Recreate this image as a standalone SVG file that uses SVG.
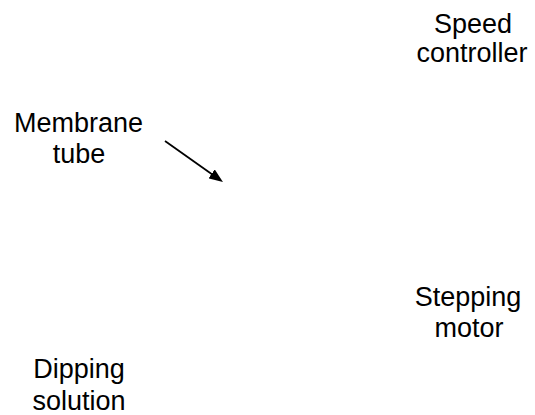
<svg xmlns="http://www.w3.org/2000/svg" width="535" height="415" viewBox="0 0 535 415">
<style>
.lbl{font-family:"Liberation Sans",Arial,sans-serif;font-size:27px;fill:#000;text-anchor:middle}
.conn{stroke:#000;stroke-width:1.8;fill:none}
</style>
<defs>
<marker id="ah" markerWidth="14" markerHeight="11" refX="4" refY="5.5" orient="auto" markerUnits="userSpaceOnUse" viewBox="0 0 14 11">
<path d="M0,0 L14,5.5 L0,11 Z" fill="#000"/>
</marker>
</defs>
<rect width="535" height="415" fill="#fff"/>
<g id="speed-controller"><text class="lbl" x="473" y="33">Speed</text><text class="lbl" x="472" y="62">controller</text></g>
<g id="membrane-tube"><text class="lbl" x="78.5" y="132">Membrane</text><text class="lbl" x="79" y="163">tube</text></g>
<g id="stepping-motor"><text class="lbl" x="468" y="306">Stepping</text><text class="lbl" x="469" y="337">motor</text></g>
<g id="dipping-solution"><text class="lbl" x="79" y="378">Dipping</text><text class="lbl" x="79" y="410">solution</text></g>
<g id="connectors">
<path class="conn" d="M165,141 L214.8,176.2" marker-end="url(#ah)"/>
</g>
</svg>
